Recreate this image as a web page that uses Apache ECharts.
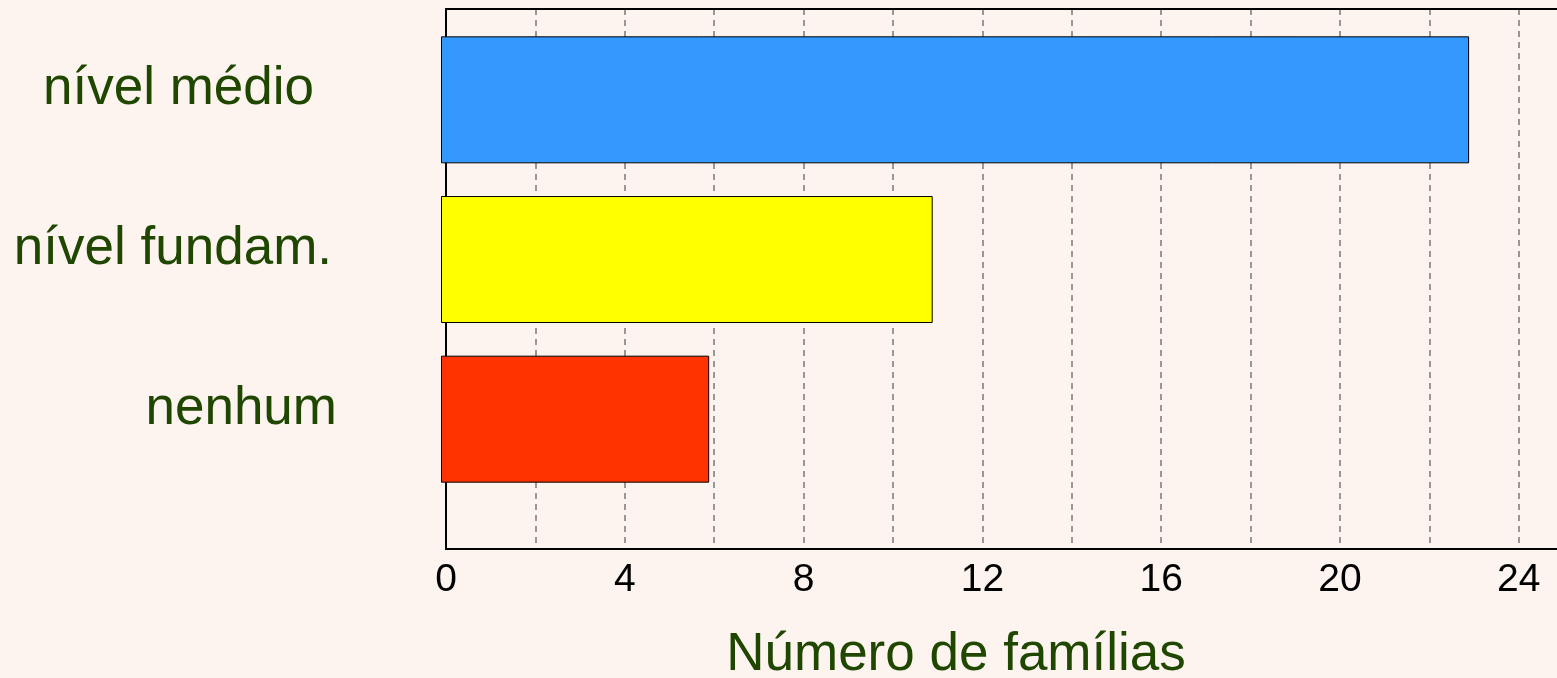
<!DOCTYPE html>
<html>
<head>
<meta charset="utf-8">
<script src="https://cdn.jsdelivr.net/npm/echarts@6/dist/echarts.min.js"></script>
<style>
  html, body { margin: 0; padding: 0; background: #fdf4ef; }
  #chart { width: 1557px; height: 678px; }
</style>
</head>
<body>
<div id="chart"></div>
<script>
  // dados
  var categorias = ['nível médio', 'nível fundam.', 'nenhum'];
  var familias = [23, 11, 6];
  var cores = ['#3399ff', '#ffff00', '#ff3300'];
  var eixoMax = 25;
  var passo = 2;

  var fonte = "'Liberation Sans', Arial, sans-serif";
  var verde = '#1f4700';
  // ajuste fino de cada rótulo (direita)
  var padDireita = [23, 5, 0];

  var chart = echarts.init(document.getElementById('chart'));
  var option = {
    backgroundColor: '#fdf4ef',
    animation: false,
    grid: [
      // barras
      { left: 441, width: 1117.5, top: 20, bottom: 179, outerBoundsMode: 'none' },
      // eixos e linhas de grade
      { left: 446, width: 1117.5, top: 9, bottom: 129, outerBoundsMode: 'none' },
      // rótulos das categorias (um pouco acima do centro das barras)
      { left: 441, width: 1117.5, top: 10, bottom: 189, outerBoundsMode: 'none' }
    ],
    xAxis: [
      { gridIndex: 0, type: 'value', min: 0, max: eixoMax, show: false },
      {
        gridIndex: 1, type: 'value', min: 0, max: eixoMax, interval: passo,
        axisLine: { show: true, lineStyle: { color: '#000', width: 2 } },
        axisTick: { show: false },
        splitLine: { show: true, lineStyle: { color: '#7a7a7a', type: [6, 5], width: 1.5 } },
        axisLabel: {
          margin: 12,
          color: '#000',
          fontSize: 39,
          fontFamily: fonte,
          showMaxLabel: false,
          formatter: function (v) { return v % 4 === 0 ? String(v) : ''; }
        }
      },
      {
        gridIndex: 1, type: 'value', min: 0, max: eixoMax, position: 'top',
        axisLine: { show: true, lineStyle: { color: '#000', width: 2 } },
        axisTick: { show: false }, axisLabel: { show: false }, splitLine: { show: false }
      },
      { gridIndex: 2, type: 'value', min: 0, max: eixoMax, show: false }
    ],
    yAxis: [
      {
        gridIndex: 0, type: 'category', inverse: true,
        data: categorias, show: false
      },
      {
        gridIndex: 1, type: 'value', min: 0, max: 1,
        axisLine: { show: true, lineStyle: { color: '#000', width: 2 } },
        axisTick: { show: false }, axisLabel: { show: false }, splitLine: { show: false }
      },
      {
        gridIndex: 2, type: 'category', inverse: true,
        data: categorias.map(function (c, i) {
          return { value: c, textStyle: { padding: [0, padDireita[i], 0, 0] } };
        }),
        axisLine: { show: false },
        axisTick: { show: false },
        splitLine: { show: false },
        axisLabel: {
          margin: 104,
          color: verde,
          fontSize: 53,
          fontFamily: fonte
        }
      }
    ],
    graphic: [{
      type: 'text',
      x: 956, y: 655,
      style: {
        text: 'Número de famílias',
        fill: verde,
        font: '53px ' + fonte,
        align: 'center',
        verticalAlign: 'middle'
      }
    }],
    series: [{
      type: 'bar',
      xAxisIndex: 0,
      yAxisIndex: 0,
      barWidth: 127,
      data: familias.map(function (v, i) {
        return { value: v, itemStyle: { color: cores[i] } };
      }),
      itemStyle: { borderColor: '#000', borderWidth: 1 }
    }]
  };
  chart.setOption(option);
</script>
</body>
</html>
